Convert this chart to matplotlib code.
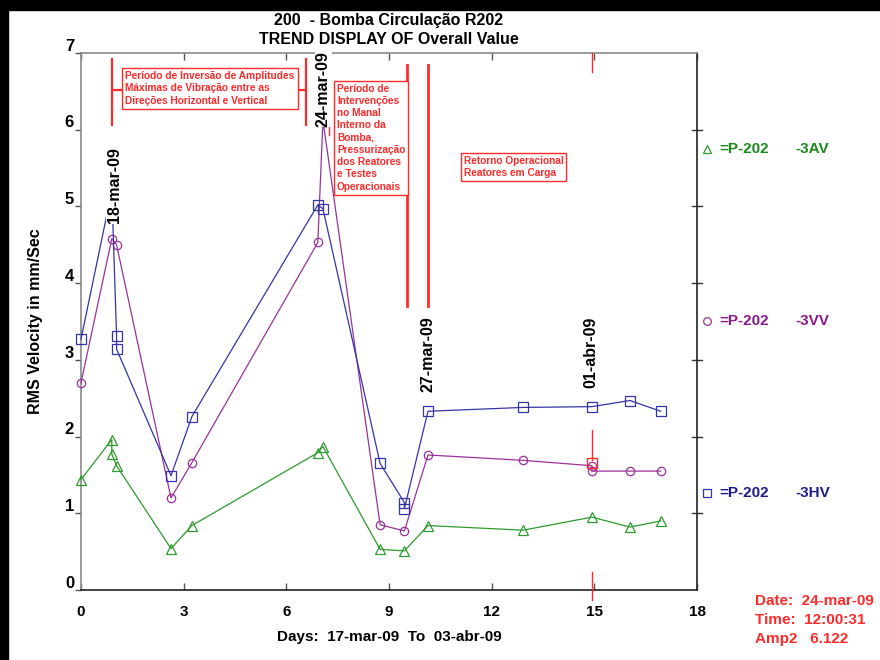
"""
Trend display of overall RMS velocity for pump R202 (P-202).
Three measurement points: 3AV, 3VV, 3HV.
"""

import matplotlib
matplotlib.use("Agg")
import matplotlib.pyplot as plt
import matplotlib.transforms as mtransforms
from matplotlib.patches import Rectangle

# === Data ===
AV_DAYS = [0, 0.90, 0.90, 1.04, 2.63, 3.24, 6.92, 7.07, 8.74, 9.45, 10.14, 12.92, 14.93, 16.04, 16.94]
AV_VALS = [1.44, 1.96, 1.77, 1.62, 0.54, 0.84, 1.79, 1.87, 0.53, 0.51, 0.84, 0.78, 0.95, 0.82, 0.90]

VV_DAYS = [0, 0.90, 1.04, 2.63, 3.24, 6.92, 7.07, 8.74, 9.45, 10.14, 12.92, 14.93, 14.93, 16.04, 16.94]
VV_VALS = [2.70, 4.58, 4.50, 1.20, 1.66, 4.53, 6.122, 0.85, 0.77, 1.76, 1.69, 1.62, 1.55, 1.55, 1.55]

HV_DAYS = [0, 0.90, 1.04, 1.04, 2.63, 3.24, 6.92, 7.07, 8.74, 9.45, 9.45, 10.14, 12.92, 14.93, 16.04, 16.94]
HV_VALS = [3.27, 5.20, 3.31, 3.14, 1.49, 2.26, 5.02, 4.97, 1.65, 1.14, 1.06, 2.33, 2.38, 2.39, 2.47, 2.33]

SERIES_NAMES = ["-3AV", "-3VV", "-3HV"]
DATE_LABELS = ["18-mar-09", "24-mar-09", "27-mar-09", "01-abr-09"]
DATE_LABEL_DAYS = [0.97, 7.08, 10.13, 14.90]
CURSOR_DAY = 14.94
CURSOR_VAL = 1.65

X_TICKS = [0, 3, 6, 9, 12, 15, 18]
Y_TICKS = [0, 1, 2, 3, 4, 5, 6, 7]

BOX1_TEXT = "Período de Inversão de Amplitudes\nMáximas de Vibração entre as\nDireções Horizontal e Vertical"
BOX2_TEXT = ("Período de\nIntervenções\nno Manal\nInterno da\nBomba,\nPressurização\n"
             "dos Reatores\ne Testes\nOperacionais")
BOX3_TEXT = "Retorno Operacional\nReatores em Carga"

# === Style ===
NARROW = ["Liberation Sans Narrow", "Liberation Sans", "DejaVu Sans"]
WIDE = ["Liberation Sans", "DejaVu Sans"]
RED = "#ff2a2a"

STYLES = {
    "-3AV": {"color": "#2e9a2e", "text": "#1a8a1a", "marker": "^", "ms": 7},
    "-3VV": {"color": "#9a329a", "text": "#8a1a8a", "marker": "o", "ms": 6},
    "-3HV": {"color": "#3434a8", "text": "#1c1c8c", "marker": "s", "ms": 7},
}

plt.rcParams["font.family"] = WIDE
plt.rcParams["font.weight"] = "bold"


def _red_box(ax, x, y, text, size=7.3):
    ax.text(x, y, text, color=RED, fontsize=size, fontweight="bold", ha="left", va="top",
            linespacing=1.28, family=WIDE, zorder=6,
            bbox=dict(boxstyle="square,pad=0.3", fc="white", ec=RED, lw=1.0))


def _annotations(ax):
    red_kw = dict(color=RED, lw=1.6, zorder=5, clip_on=False)
    # bracket around the first period
    ax.plot([0.915, 0.915], [6.06, 6.92], **red_kw)
    ax.plot([0.915, 1.22], [6.52, 6.52], **red_kw)
    ax.plot([6.35, 6.57], [6.52, 6.52], **red_kw)
    ax.plot([6.57, 6.57], [6.06, 6.92], **red_kw)
    _red_box(ax, 1.30, 6.765, BOX1_TEXT)

    ax.plot([7.26, 7.26], [5.93, 6.83], color=RED, lw=1.0, zorder=5)
    _red_box(ax, 7.48, 6.60, BOX2_TEXT)

    ax.plot([9.53, 9.53], [3.70, 6.85], color=RED, lw=2.0, zorder=5)
    ax.plot([10.13, 10.13], [3.70, 6.85], color=RED, lw=2.0, zorder=5)
    _red_box(ax, 11.18, 5.66, BOX3_TEXT)

    # cursor
    cur_kw = dict(color=RED, lw=1.0, zorder=5, clip_on=False)
    ax.plot([CURSOR_DAY, CURSOR_DAY], [6.75, 7.0], **cur_kw)
    ax.plot([CURSOR_DAY, CURSOR_DAY], [1.69, 2.09], **cur_kw)
    ax.plot([CURSOR_DAY, CURSOR_DAY], [-0.13, 0.23], **cur_kw)
    ax.plot([CURSOR_DAY], [CURSOR_VAL], marker="s", ms=7, mfc="none", mec=RED, mew=1.0, zorder=6)


def main():
    fig = plt.figure(figsize=(8.8, 6.6), dpi=100)
    ax = fig.add_axes([81 / 880, 70 / 660, 616 / 880, 537 / 660])

    data = {
        "-3AV": (AV_DAYS, AV_VALS),
        "-3VV": (VV_DAYS, VV_VALS),
        "-3HV": (HV_DAYS, HV_VALS),
    }
    for name in SERIES_NAMES:
        days, vals = data[name]
        st = STYLES[name]
        ax.plot(days, vals, color=st["color"], lw=0.9, marker=st["marker"], ms=st["ms"],
                mfc="none", mec=st["color"], mew=0.9, zorder=3, clip_on=False)

    # date labels with white background hide the lines under them
    for label, day, y in zip(DATE_LABELS, DATE_LABEL_DAYS, [4.78, 6.04, 2.58, 2.63]):
        ax.text(day, y, label, rotation=90, ha="center", va="bottom", fontsize=11.5,
                fontweight="bold", family=WIDE, zorder=7, clip_on=False,
                bbox=dict(boxstyle="square,pad=0.05", fc="white", ec="none"))

    _annotations(ax)

    ax.set_xlim(0, 18)
    ax.set_ylim(0, 7)
    ax.set_xticks(X_TICKS)
    ax.set_yticks(Y_TICKS)
    ax.set_xticklabels([str(t) for t in X_TICKS], family=NARROW, fontsize=11, fontweight="bold")
    ax.set_yticklabels([str(t) for t in Y_TICKS], family=WIDE, fontsize=12, fontweight="bold")
    ax.tick_params(axis="x", direction="in", top=True, length=5, width=1, pad=11, colors="#555555",
                   labelcolor="black")
    ax.tick_params(axis="y", direction="out", length=4, width=1, pad=1, colors="#555555",
                   labelcolor="black")
    shift = mtransforms.ScaledTranslation(0, 6 / 72, fig.dpi_scale_trans)
    for lbl in ax.get_yticklabels():
        lbl.set_transform(lbl.get_transform() + shift)

    for side, col in (("top", "#8a8a8a"), ("left", "#8a8a8a"), ("bottom", "#222222"), ("right", "#222222")):
        ax.spines[side].set_color(col)
        ax.spines[side].set_linewidth(1.2)

    # right side: ticks crossing the spine
    for t in Y_TICKS[1:-1]:
        ax.plot([1.0 - 5 / 616, 1.0 + 5 / 616], [t, t], color="#333333", lw=1,
                transform=ax.get_yaxis_transform(), clip_on=False)

    ax.set_ylabel("RMS Velocity in mm/Sec", fontsize=11.5, fontweight="bold", labelpad=16)
    ax.set_xlabel("Days:  17-mar-09  To  03-abr-09", fontsize=11, fontweight="bold",
                  family=NARROW, labelpad=8)

    fig.text(389 / 880, 1 - 20 / 660, "200  - Bomba Circulação R202", ha="center", va="center",
             fontsize=11.5, fontweight="bold", family=NARROW)
    fig.text(389 / 880, 1 - 39 / 660, "TREND DISPLAY OF Overall Value", ha="center", va="center",
             fontsize=11.5, fontweight="bold", family=NARROW)

    # legend texts on the right
    for name, ypix in zip(SERIES_NAMES, [149, 321, 493]):
        st = STYLES[name]
        yf = 1 - ypix / 660
        fig.lines.append(plt.Line2D([707 / 880], [yf], marker=st["marker"], ms=5.5, mfc="none",
                                    mec=st["color"], mew=0.9, transform=fig.transFigure))
        fig.text(719 / 880, yf, "=P-202", color=st["text"], fontsize=11, fontweight="bold",
                 va="center", ha="left", family=WIDE)
        fig.text(795 / 880, yf, name, color=st["text"], fontsize=11, fontweight="bold",
                 va="center", ha="left", family=WIDE)

    for i, line in enumerate(["Date:  24-mar-09", "Time:  12:00:31", "Amp2   6.122"]):
        fig.text(755 / 880, 1 - (601 + 19 * i) / 660, line, color=RED, fontsize=11,
                 fontweight="bold", va="center", ha="left", family=NARROW)

    # black frame strips on top and left
    fig.patches.append(Rectangle((0, 1 - 10 / 660), 1, 10 / 660, color="black",
                                 transform=fig.transFigure, figure=fig))
    fig.patches.append(Rectangle((0, 0), 8 / 880, 1, color="black",
                                 transform=fig.transFigure, figure=fig))

    fig.savefig("out.png", dpi=100)


if __name__ == "__main__":
    main()
